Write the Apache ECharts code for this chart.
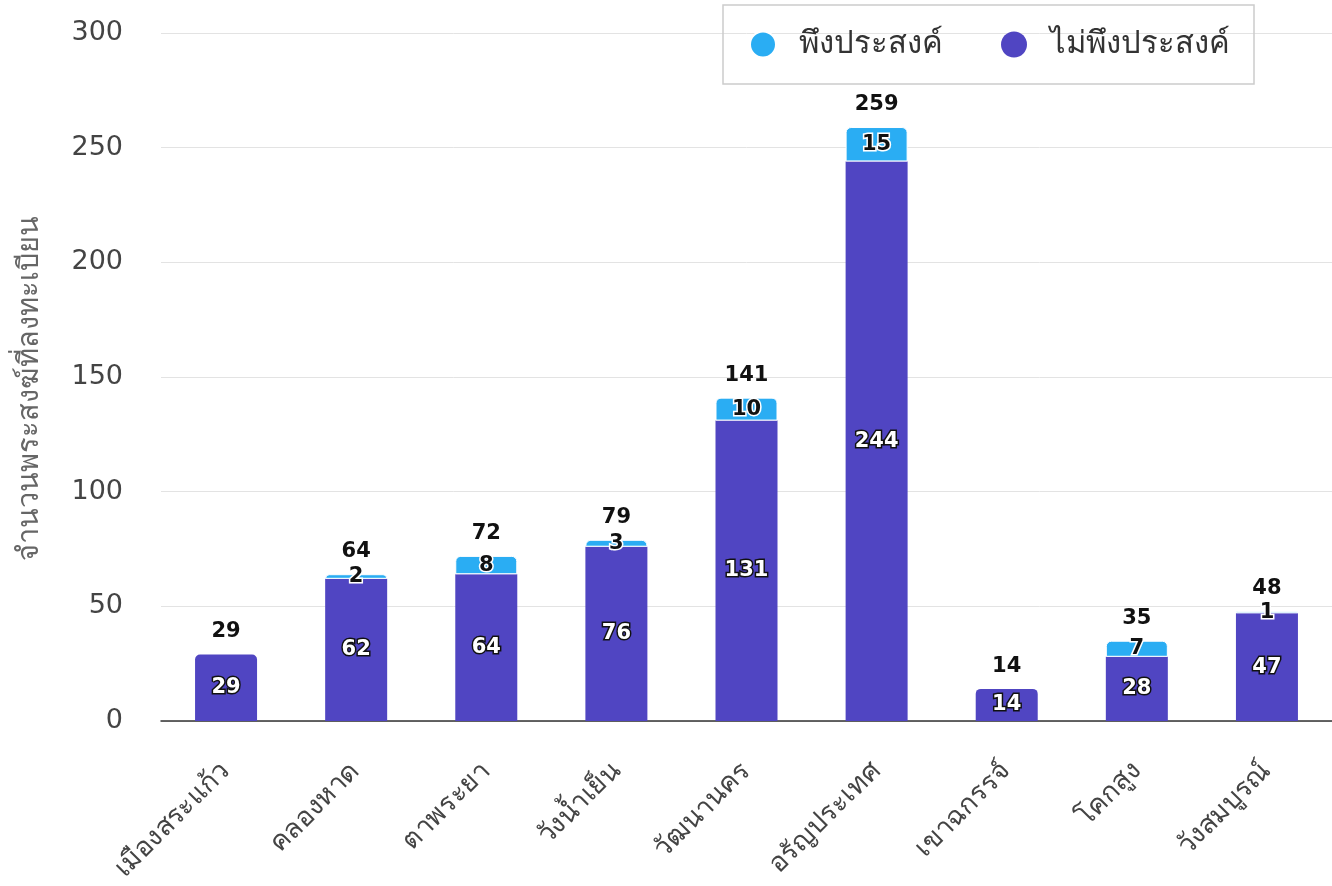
<!DOCTYPE html>
<html><head><meta charset="utf-8">
<script src="https://cdn.jsdelivr.net/npm/echarts@6/dist/echarts.min.js"></script>
<style>html,body{margin:0;padding:0;background:#fff}#c{width:1332px;height:886px}</style>
</head><body><div id="c"></div>
<script>
const categories = ['เมืองสระแก้ว','คลองหาด','ตาพระยา','วังน้ำเย็น','วัฒนานคร','อรัญประเทศ','เขาฉกรรจ์','โคกสูง','วังสมบูรณ์'];
const desirable = [0, 2, 8, 3, 10, 15, 0, 7, 1];
const undesirable = [29, 62, 64, 76, 131, 244, 14, 28, 47];
const totals = [29, 64, 72, 79, 141, 259, 14, 35, 48];
const seriesNames = ['พึงประสงค์', 'ไม่พึงประสงค์'];
const yAxisName = 'จำนวนพระสงฆ์ที่ลงทะเบียน';

const FONT = '"DejaVu Sans", "Noto Sans", sans-serif';
const BLUE = '#2AADF3', PURPLE = '#5045C2';

const chart = echarts.init(document.getElementById('c'));
chart.setOption({
  animation: false,
  textStyle: { fontFamily: FONT },
  grid: { left: 161, right: -4, top: 33, bottom: 165, containLabel: false },
  legend: {
    data: seriesNames, top: 5, right: 78, icon: 'circle', itemWidth: 26, itemHeight: 26, itemGap: 58,
    padding: [24, 24, 24, 26], borderColor: '#ccc', borderWidth: 1.5,
    textStyle: { fontSize: 31, color: '#333', fontFamily: FONT, padding: [0, 0, 0, 18] }
  },
  xAxis: {
    type: 'category', data: categories,
    axisTick: { show: false },
    axisLine: { lineStyle: { color: '#333', width: 1.5 } },
    axisLabel: { rotate: 45, fontSize: 27, color: '#444', margin: 46, interval: 0 }
  },
  yAxis: {
    type: 'value', min: 0, max: 300, interval: 50,
    name: yAxisName, nameLocation: 'middle', nameGap: 116, nameRotate: 90,
    nameTextStyle: { fontSize: 29, color: '#666', padding: [0, 22, 0, 0] },
    axisLabel: { fontSize: 27, color: '#444', margin: 38 },
    splitLine: { lineStyle: { color: '#e3e3e3' } }
  },
  series: [
    {
      name: seriesNames[1], type: 'bar', stack: 's', barWidth: 62,
      data: undesirable.map((v, i) => ({ value: v, itemStyle: { borderRadius: desirable[i] ? 0 : [5,5,0,0] } })),
      itemStyle: { color: PURPLE },
      label: { show: true, position: 'inside', color: '#fff', fontSize: 21, fontWeight: 'bold',
        textBorderColor: '#111', textBorderWidth: 3 }
    },
    {
      name: seriesNames[0], type: 'bar', stack: 's', barWidth: 62,
      data: desirable.map(v => v ? v : null),
      itemStyle: { color: BLUE, borderRadius: [5,5,0,0], borderColor: '#fff', borderWidth: 1 },
      label: { show: true, position: 'inside', color: '#111', fontSize: 21, fontWeight: 'bold',
        textBorderColor: '#fff', textBorderWidth: 3 }
    },
    {
      name: 'total', type: 'bar', stack: 's', barWidth: 62,
      data: totals.map(() => 0),
      itemStyle: { color: 'transparent' },
      label: { show: true, position: 'top', distance: 12, fontSize: 21, fontWeight: 'bold', color: '#111',
        formatter: p => totals[p.dataIndex] }
    }
  ]
});
</script></body></html>
